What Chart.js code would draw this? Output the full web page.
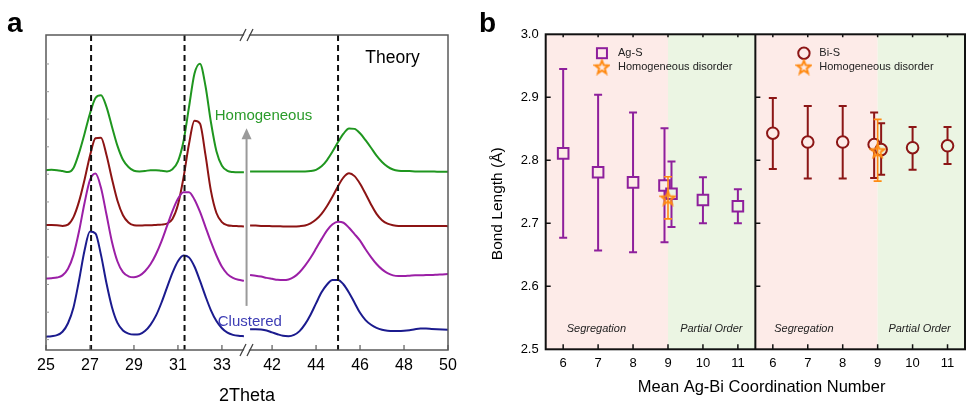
<!DOCTYPE html>
<html>
<head>
<meta charset="utf-8">
<script src="https://cdn.jsdelivr.net/npm/chart.js"></script>
<style>
  html, body { margin: 0; padding: 0; background: #fff; overflow: hidden; }
  #wrap { position: relative; width: 966px; height: 403px; overflow: hidden; }
  .panel { position: absolute; top: 0; height: 420px; }
  #boxA { left: 0; width: 480px; }
  #boxB { left: 480px; width: 486px; }
  .tag { position: absolute; font: bold 28px "Liberation Sans", Arial, sans-serif; line-height: 28px; color: #000; }
</style>
</head>
<body>
<div id="wrap">
  <div class="panel" id="boxA"><canvas id="chartA" width="480" height="420"></canvas></div>
  <div class="panel" id="boxB"><canvas id="chartB" width="486" height="420"></canvas></div>
  <div class="tag" style="left:7px; top:9px">a</div>
  <div class="tag" style="left:479px; top:9px">b</div>
</div>
<script>
// ---- panel a: simulated XRD patterns (offset, arbitrary units) ----
const twoThetaLeft = [25, 25.25, 25.5, 25.75, 26, 26.25, 26.5, 26.75, 27, 27.25, 27.5, 27.75, 28, 28.25, 28.5, 28.75,
  29, 29.25, 29.5, 29.75, 30, 30.25, 30.5, 30.75, 31, 31.25, 31.5, 31.75, 32, 32.25, 32.5, 32.75, 33, 33.25, 33.5, 33.75, 34];
const twoThetaRight = [41, 41.25, 41.5, 41.75, 42, 42.25, 42.5, 42.75, 43, 43.25, 43.5, 43.75, 44, 44.25, 44.5, 44.75,
  45, 45.25, 45.5, 45.75, 46, 46.25, 46.5, 46.75, 47, 47.25, 47.5, 47.75, 48, 48.25, 48.5, 48.75, 49, 49.25, 49.5, 49.75, 50];

const clusteredLeft = [0.42, 0.44, 0.47, 0.58, 0.85, 1.35, 2.20, 3.15, 3.76, 3.70, 3.02, 2.12, 1.36, 0.86, 0.62, 0.52,
  0.49, 0.50, 0.60, 0.80, 1.09, 1.50, 1.98, 2.45, 2.82, 3.00, 2.94, 2.65, 2.20, 1.71, 1.26, 0.92, 0.69, 0.55, 0.48, 0.45, 0.44];
const clusteredRight = [0.66, 0.66, 0.65, 0.62, 0.56, 0.50, 0.45, 0.44, 0.48, 0.60, 0.82, 1.12, 1.48, 1.83, 2.08, 2.22,
  2.22, 2.08, 1.82, 1.50, 1.18, 0.95, 0.80, 0.70, 0.64, 0.61, 0.60, 0.60, 0.61, 0.63, 0.66, 0.68, 0.68, 0.67, 0.66, 0.65, 0.64];

const mixedLeft = [2.27, 2.28, 2.30, 2.37, 2.58, 3.02, 3.76, 4.66, 5.40, 5.60, 5.15, 4.30, 3.43, 2.81, 2.47, 2.34,
  2.31, 2.36, 2.50, 2.72, 3.04, 3.45, 3.93, 4.41, 4.80, 5.01, 5.01, 4.78, 4.39, 3.91, 3.43, 3.00, 2.64, 2.41, 2.29, 2.23, 2.20];
const mixedRight = [2.38, 2.36, 2.33, 2.29, 2.26, 2.23, 2.22, 2.24, 2.32, 2.47, 2.68, 2.93, 3.22, 3.52, 3.80, 3.99,
  4.07, 4.04, 3.88, 3.68, 3.47, 3.20, 2.95, 2.73, 2.56, 2.44, 2.37, 2.35, 2.35, 2.36, 2.37, 2.37, 2.38, 2.38, 2.39, 2.40, 2.41];

const orderedLeft = [3.97, 3.97, 3.96, 3.94, 3.98, 4.22, 4.71, 5.40, 6.17, 6.72, 6.74, 6.19, 5.43, 4.74, 4.28, 4.05,
  3.96, 3.95, 3.96, 3.96, 3.97, 3.98, 4.01, 4.16, 4.61, 5.46, 6.53, 7.28, 7.19, 6.20, 5.05, 4.35, 4.06, 3.96, 3.94, 3.93, 3.92];
const orderedRight = [3.95, 3.95, 3.94, 3.94, 3.93, 3.93, 3.92, 3.92, 3.92, 3.93, 3.95, 4.02, 4.14, 4.32, 4.57, 4.87,
  5.20, 5.48, 5.61, 5.52, 5.28, 4.96, 4.62, 4.32, 4.12, 4.01, 3.96, 3.94, 3.94, 3.94, 3.94, 3.94, 3.94, 3.94, 3.94, 3.94, 3.93];

const homogeneousLeft = [5.71, 5.72, 5.71, 5.68, 5.65, 5.78, 6.25, 6.86, 7.51, 8.00, 8.09, 7.72, 7.09, 6.48, 6.04, 5.81,
  5.69, 5.67, 5.68, 5.71, 5.71, 5.69, 5.67, 5.74, 5.99, 6.62, 7.70, 8.77, 9.09, 8.39, 7.23, 6.31, 5.85, 5.69, 5.65, 5.64, 5.64];
const homogeneousRight = [5.67, 5.67, 5.67, 5.67, 5.67, 5.67, 5.67, 5.67, 5.67, 5.67, 5.67, 5.68, 5.72, 5.83, 6.03, 6.30,
  6.60, 6.87, 7.03, 7.02, 6.88, 6.66, 6.42, 6.17, 5.97, 5.82, 5.73, 5.69, 5.68, 5.68, 5.67, 5.67, 5.67, 5.67, 5.66, 5.66, 5.66];

const xTicksLeft = [25, 27, 29, 31, 33];
const xTicksRight = [42, 44, 46, 48, 50];
const refLinesLeft = [27.05, 31.3];
const refLinesRight = [45.0];
const yTicksA = [0.33, 1.2, 2.08, 2.95, 3.83, 4.7, 5.58, 6.45, 7.33, 8.2, 9.08];
const breakLeft = 34.14, breakRight = 40.86;

// ---- panel b: bond lengths ----
const coordTicks = [6, 7, 8, 9, 10, 11];
const bondTicks = [2.6, 2.7, 2.8, 2.9];
const agsX = [6, 7, 8, 8.9, 9.1, 10, 11];
const agsY = [2.811, 2.781, 2.765, 2.760, 2.747, 2.737, 2.727];
const agsLow = [2.677, 2.657, 2.654, 2.670, 2.694, 2.700, 2.700];
const agsHigh = [2.945, 2.904, 2.876, 2.851, 2.798, 2.773, 2.754];
const agsHomX = [9.0], agsHomY = [2.740], agsHomLow = [2.707], agsHomHigh = [2.774];
const bisX = [6, 7, 8, 8.9, 9.1, 10, 11];
const bisY = [2.843, 2.829, 2.829, 2.825, 2.817, 2.820, 2.823];
const bisLow = [2.786, 2.771, 2.771, 2.772, 2.777, 2.785, 2.794];
const bisHigh = [2.899, 2.886, 2.886, 2.876, 2.859, 2.853, 2.853];
const bisHomX = [9.0], bisHomY = [2.815], bisHomLow = [2.767], bisHomHigh = [2.865];
const orderBoundary = 9;

const FONT = '"Liberation Sans", Arial, sans-serif';
Chart.defaults.font.family = FONT;
Chart.defaults.color = '#000';

const PINK = '#fdebe8', MINT = '#ebf5e3';
const PURPLE = '#8e1f9c', DARKRED = '#8c1616', ORANGE = '#ff8a12';

function pts(xs, ys) { return xs.map((x, i) => ({ x: x, y: ys[i] })); }

function curve(xs, ys, color, axis) {
  return {
    data: pts(xs, ys), xAxisID: axis, showLine: true, borderColor: color, borderWidth: 2,
    pointRadius: 0, cubicInterpolationMode: 'monotone', fill: false
  };
}

function fixedTicks(list) {
  return s => { s.ticks = list.map(v => ({ value: v })); };
}

// keep the axis label overhang from pushing the plot frame inwards
function noOverhang(height) {
  return s => {
    if (height) s.height = height;
    s.paddingLeft = 0; s.paddingRight = 0;
  };
}

// panel a decorations: frame, break marks, dashed reference lines, labels, arrow
const decorA = {
  id: 'decorA',
  afterDatasetsDraw(chart) {
    const { ctx, chartArea: ca, scales } = chart;
    const xl = scales.xL, xr = scales.xR, y = scales.y;
    ctx.save();

    ctx.setLineDash([6, 4]);
    ctx.strokeStyle = '#111';
    ctx.lineWidth = 2;
    const vline = px => { ctx.beginPath(); ctx.moveTo(px, ca.top); ctx.lineTo(px, ca.bottom); ctx.stroke(); };
    refLinesLeft.forEach(v => vline(xl.getPixelForValue(v)));
    refLinesRight.forEach(v => vline(xr.getPixelForValue(v)));
    ctx.setLineDash([]);

    ctx.strokeStyle = '#5a5a5a';
    ctx.lineWidth = 1.5;
    ctx.strokeRect(ca.left, ca.top, ca.width, ca.height);

    ctx.lineWidth = 1.2;
    ctx.beginPath();
    xTicksLeft.forEach(v => { const px = xl.getPixelForValue(v); ctx.moveTo(px, ca.bottom); ctx.lineTo(px, ca.bottom - 5); });
    xTicksRight.forEach(v => { const px = xr.getPixelForValue(v); ctx.moveTo(px, ca.bottom); ctx.lineTo(px, ca.bottom - 5); });
    ctx.stroke();
    ctx.strokeStyle = '#999';
    ctx.lineWidth = 1;
    ctx.beginPath();
    yTicksA.forEach(v => { const py = y.getPixelForValue(v); ctx.moveTo(ca.left, py); ctx.lineTo(ca.left + 3, py); });
    ctx.stroke();

    // axis break "//"
    const bx = xl.getPixelForValue(breakLeft);
    [ca.top, ca.bottom].forEach(by => {
      ctx.fillStyle = '#fff';
      ctx.beginPath();
      ctx.moveTo(bx - 6, by + 6); ctx.lineTo(bx, by - 6); ctx.lineTo(bx + 5, by - 6); ctx.lineTo(bx - 1, by + 6);
      ctx.closePath(); ctx.fill();
      ctx.strokeStyle = '#444';
      ctx.lineWidth = 1.3;
      ctx.beginPath();
      ctx.moveTo(bx - 7, by + 6); ctx.lineTo(bx - 1, by - 6);
      ctx.moveTo(bx, by + 6); ctx.lineTo(bx + 6, by - 6);
      ctx.stroke();
    });

    // arrow Clustered -> Homogeneous
    const ax = xl.getPixelForValue(34.12);
    const ay0 = y.getPixelForValue(1.40), ay1 = y.getPixelForValue(7.04);
    ctx.strokeStyle = '#9a9a9a';
    ctx.fillStyle = '#9a9a9a';
    ctx.lineWidth = 2;
    ctx.beginPath(); ctx.moveTo(ax, ay0); ctx.lineTo(ax, ay1 + 8); ctx.stroke();
    ctx.beginPath(); ctx.moveTo(ax, ay1); ctx.lineTo(ax - 5, ay1 + 11); ctx.lineTo(ax + 5, ay1 + 11); ctx.closePath(); ctx.fill();

    ctx.textBaseline = 'middle';
    ctx.textAlign = 'center';
    ctx.font = '17.5px ' + FONT;
    ctx.fillStyle = '#000';
    ctx.fillText('Theory', xr.getPixelForValue(47.48), y.getPixelForValue(9.26));
    ctx.font = '15px ' + FONT;
    ctx.fillStyle = '#2a9b2a';
    ctx.fillText('Homogeneous', xl.getPixelForValue(34.89), y.getPixelForValue(7.43));
    ctx.fillStyle = '#3d3db5';
    ctx.fillText('Clustered', xl.getPixelForValue(34.27), y.getPixelForValue(0.90));
    ctx.restore();
  }
};

new Chart(document.getElementById('chartA'), {
  type: 'scatter',
  data: {
    datasets: [
      curve(twoThetaLeft, clusteredLeft, '#1b1b8e', 'xL'),
      curve(twoThetaRight, clusteredRight, '#1b1b8e', 'xR'),
      curve(twoThetaLeft, mixedLeft, '#9b1fa6', 'xL'),
      curve(twoThetaRight, mixedRight, '#9b1fa6', 'xR'),
      curve(twoThetaLeft, orderedLeft, '#8c1414', 'xL'),
      curve(twoThetaRight, orderedRight, '#8c1414', 'xR'),
      curve(twoThetaLeft, homogeneousLeft, '#1f961f', 'xL'),
      curve(twoThetaRight, homogeneousRight, '#1f961f', 'xR')
    ]
  },
  options: {
    responsive: false,
    animation: false,
    layout: { autoPadding: false, padding: { left: 46, top: 35, right: 32, bottom: 13.2 } },
    plugins: { legend: { display: false }, tooltip: { enabled: false } },
    scales: {
      xL: {
        type: 'linear', axis: 'x', position: 'bottom',
        min: 25, max: 25 + 2 * (breakLeft - 25),
        grid: { display: false, drawTicks: false }, border: { display: false },
        ticks: { padding: 6, font: { size: 16 }, color: '#000', autoSkip: false, maxRotation: 0 },
        afterBuildTicks: fixedTicks(xTicksLeft),
        title: { display: true, text: '2Theta', font: { size: 18 }, color: '#000', padding: { top: 4, bottom: 0 } },
        afterFit: noOverhang(56.8)
      },
      xR: {
        type: 'linear', axis: 'x', position: { y: 0 },
        min: 50 - 2 * (50 - breakRight), max: 50,
        grid: { display: false, drawTicks: false }, border: { display: false },
        ticks: { padding: 6, font: { size: 16 }, color: '#000', autoSkip: false, maxRotation: 0 },
        afterBuildTicks: fixedTicks(xTicksRight),
        afterFit: noOverhang(0)
      },
      y: { type: 'linear', min: 0, max: 10, display: false }
    }
  },
  plugins: [decorA]
});

// ---- panel b ----
function makeStar(color) {
  const c = document.createElement('canvas');
  c.width = 17; c.height = 17;
  const g = c.getContext('2d');
  g.strokeStyle = color;
  g.lineWidth = 2;
  g.beginPath();
  for (let k = 0; k < 10; k++) {
    const a = -Math.PI / 2 + k * Math.PI / 5;
    const r = k % 2 ? 3.0 : 7.0;
    g.lineTo(8.5 + r * Math.cos(a), 9 + r * Math.sin(a));
  }
  g.closePath();
  g.stroke();
  return c;
}
const starImg = makeStar(ORANGE);

function fills(xs) { return xs.map(x => (x < orderBoundary + 0.05 ? PINK : MINT)); }

const errorBars = {
  id: 'errorBars',
  beforeDatasetDraw(chart, args) {
    const ds = chart.data.datasets[args.index];
    if (!ds.errLow) return;
    const xs = chart.scales[ds.xAxisID], ys = chart.scales.y, ctx = chart.ctx;
    ctx.save();
    ctx.strokeStyle = ds.errColor;
    ctx.lineWidth = ds.errWidth;
    ds.data.forEach((p, i) => {
      const x = xs.getPixelForValue(p.x);
      const lo = ys.getPixelForValue(ds.errLow[i]), hi = ys.getPixelForValue(ds.errHigh[i]);
      ctx.beginPath();
      ctx.moveTo(x, lo); ctx.lineTo(x, hi);
      ctx.moveTo(x - 4, lo); ctx.lineTo(x + 4, lo);
      ctx.moveTo(x - 4, hi); ctx.lineTo(x + 4, hi);
      ctx.stroke();
    });
    ctx.restore();
  }
};

const decorB = {
  id: 'decorB',
  beforeDatasetsDraw(chart) {
    const { ctx, chartArea: ca, scales } = chart;
    ctx.save();
    [scales.bL, scales.bR].forEach(s => {
      const x0 = s.getPixelForValue(5.5), x1 = s.getPixelForValue(orderBoundary), x2 = s.getPixelForValue(11.5);
      ctx.fillStyle = PINK; ctx.fillRect(x0, ca.top, x1 - x0, ca.height);
      ctx.fillStyle = MINT; ctx.fillRect(x1, ca.top, x2 - x1, ca.height);
    });
    ctx.restore();
  },
  afterDatasetsDraw(chart) {
    const { ctx, chartArea: ca, scales } = chart;
    const bL = scales.bL, bR = scales.bR, y = scales.y;
    const xDiv = bL.getPixelForValue(11.5);
    ctx.save();
    ctx.strokeStyle = '#111';
    ctx.lineWidth = 2;
    ctx.strokeRect(ca.left, ca.top, ca.width, ca.height);
    ctx.beginPath(); ctx.moveTo(xDiv, ca.top); ctx.lineTo(xDiv, ca.bottom); ctx.stroke();

    ctx.lineWidth = 1.5;
    ctx.beginPath();
    [bL, bR].forEach(s => coordTicks.forEach(v => {
      const px = s.getPixelForValue(v);
      ctx.moveTo(px, ca.bottom); ctx.lineTo(px, ca.bottom - 5);
      ctx.moveTo(px, ca.top); ctx.lineTo(px, ca.top + 3);
    }));
    bondTicks.forEach(v => {
      const py = y.getPixelForValue(v);
      ctx.moveTo(ca.left, py); ctx.lineTo(ca.left + 5, py);
      ctx.moveTo(xDiv, py); ctx.lineTo(xDiv + 5, py);
    });
    ctx.stroke();

    // region labels
    ctx.fillStyle = '#222';
    ctx.textBaseline = 'middle';
    ctx.textAlign = 'center';
    ctx.font = 'italic 11px ' + FONT;
    const ty = y.getPixelForValue(2.533);
    ctx.fillText('Segregation', bL.getPixelForValue(6.95), ty);
    ctx.fillText('Partial Order', bL.getPixelForValue(10.24), ty);
    ctx.fillText('Segregation', bR.getPixelForValue(6.89), ty);
    ctx.fillText('Partial Order', bR.getPixelForValue(10.2), ty);

    // legends
    ctx.font = '11px ' + FONT;
    ctx.textAlign = 'left';
    const r1 = y.getPixelForValue(2.970), r2 = y.getPixelForValue(2.948);
    let mx = bL.getPixelForValue(7.11);
    ctx.strokeStyle = PURPLE; ctx.lineWidth = 2;
    ctx.strokeRect(mx - 5, r1 - 5, 10, 10);
    ctx.drawImage(starImg, mx - 8.5, r2 - 8.5);
    ctx.fillText('Ag-S', bL.getPixelForValue(7.57), r1);
    ctx.fillText('Homogeneous disorder', bL.getPixelForValue(7.57), r2);
    mx = bR.getPixelForValue(6.89);
    ctx.strokeStyle = DARKRED;
    ctx.beginPath(); ctx.arc(mx, r1, 5.7, 0, Math.PI * 2); ctx.stroke();
    ctx.drawImage(starImg, mx - 8.5, r2 - 8.5);
    ctx.fillText('Bi-S', bR.getPixelForValue(7.33), r1);
    ctx.fillText('Homogeneous disorder', bR.getPixelForValue(7.33), r2);

    // axis titles, placed where the figure has them (both sit a little off the frame centre)
    ctx.textAlign = 'center';
    ctx.fillStyle = '#000';
    ctx.font = '16.5px ' + FONT;
    ctx.fillText('Mean Ag-Bi Coordination Number', bL.getPixelForValue(11.68), ca.bottom + 38.4);
    ctx.save();
    ctx.translate(ca.left - 47.7, y.getPixelForValue(2.731));
    ctx.rotate(-Math.PI / 2);
    ctx.font = '15.5px ' + FONT;
    ctx.fillText('Bond Length (Å)', 0, 0);
    ctx.restore();
    ctx.restore();
  }
};

new Chart(document.getElementById('chartB'), {
  type: 'scatter',
  data: {
    datasets: [
      {
        label: 'Ag-S homogeneous disorder', data: pts(agsHomX, agsHomY), xAxisID: 'bL', order: 0,
        pointStyle: starImg, pointRadius: 7, borderColor: ORANGE,
        errLow: agsHomLow, errHigh: agsHomHigh, errColor: ORANGE, errWidth: 1.6
      },
      {
        label: 'Ag-S', data: pts(agsX, agsY), xAxisID: 'bL', order: 1,
        pointStyle: 'rect', pointRadius: 7.5, borderWidth: 2, borderColor: PURPLE,
        pointBackgroundColor: fills(agsX),
        errLow: agsLow, errHigh: agsHigh, errColor: PURPLE, errWidth: 2
      },
      {
        label: 'Bi-S homogeneous disorder', data: pts(bisHomX, bisHomY), xAxisID: 'bR', order: 0,
        pointStyle: starImg, pointRadius: 7, borderColor: ORANGE,
        errLow: bisHomLow, errHigh: bisHomHigh, errColor: ORANGE, errWidth: 1.6
      },
      {
        label: 'Bi-S', data: pts(bisX, bisY), xAxisID: 'bR', order: 1,
        pointStyle: 'circle', pointRadius: 5.8, borderWidth: 2, borderColor: DARKRED,
        pointBackgroundColor: fills(bisX),
        errLow: bisLow, errHigh: bisHigh, errColor: DARKRED, errWidth: 2
      }
    ]
  },
  options: {
    responsive: false,
    animation: false,
    layout: { autoPadding: false, padding: { left: 8, top: 34.3, right: 1, bottom: 22.4 } },
    plugins: { legend: { display: false }, tooltip: { enabled: false } },
    scales: {
      bL: {
        type: 'linear', axis: 'x', position: 'bottom', min: 5.5, max: 17.5,
        grid: { display: false, drawTicks: false }, border: { display: false },
        ticks: { padding: 6.2, font: { size: 13 }, color: '#000', autoSkip: false, maxRotation: 0 },
        afterBuildTicks: fixedTicks(coordTicks),
        afterFit: noOverhang(48.3)
      },
      bR: {
        type: 'linear', axis: 'x', position: { y: 2.5 }, min: -0.5, max: 11.5,
        grid: { display: false, drawTicks: false }, border: { display: false },
        ticks: { padding: 6.2, font: { size: 13 }, color: '#000', autoSkip: false, maxRotation: 0 },
        afterBuildTicks: fixedTicks(coordTicks),
        afterFit: noOverhang(0)
      },
      y: {
        type: 'linear', position: 'left', min: 2.5, max: 3.0,
        grid: { display: false, drawTicks: false }, border: { display: false },
        ticks: { stepSize: 0.1, padding: 7, font: { size: 13 }, color: '#000', callback: v => v.toFixed(1) },
        title: { display: false },
        afterFit: s => { s.width = 57.7; }
      }
    }
  },
  plugins: [errorBars, decorB]
});
</script>
</body>
</html>
